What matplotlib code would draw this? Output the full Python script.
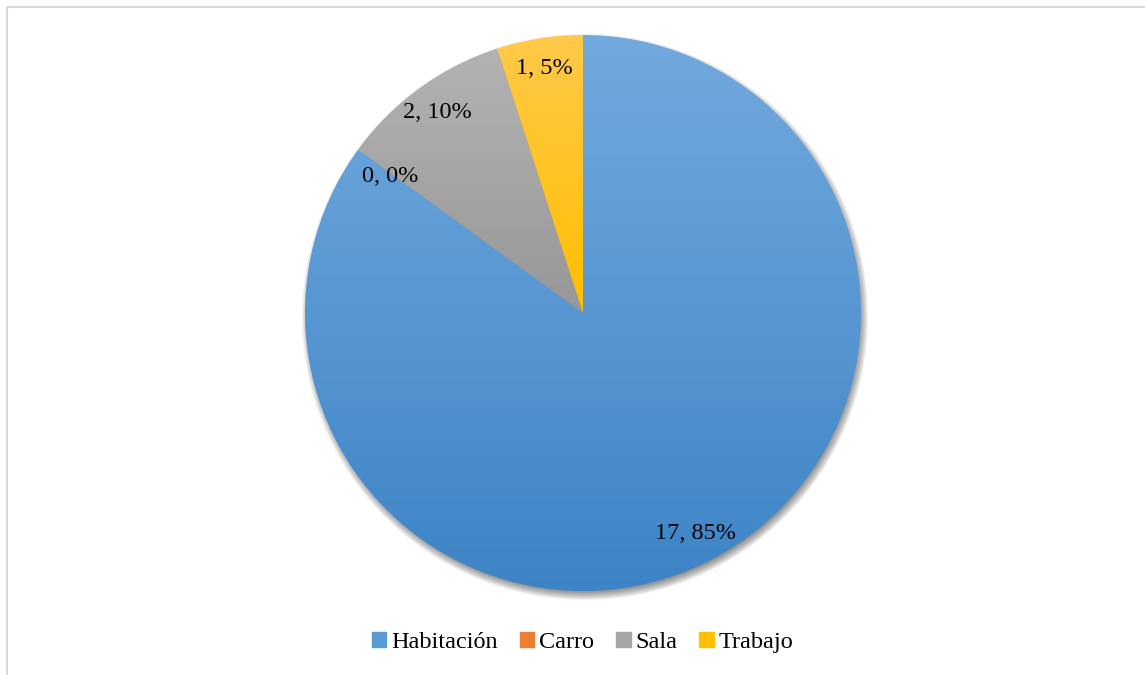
import matplotlib.pyplot as plt
import numpy as np
from matplotlib.patches import Rectangle, Circle
from matplotlib.colors import LinearSegmentedColormap
from matplotlib.lines import Line2D

# Dados do gráfico
categorias = ['Habitación', 'Carro', 'Sala', 'Trabajo']
valores = [17, 0, 2, 1]
cor_topo = ['#72A9DE', '#F5A263', '#B3B3B3', '#FFC94A']
cor_base = ['#3D84C6', '#E36C0A', '#979797', '#FFBF00']
cor_legenda = ['#5B9BD5', '#ED7D31', '#A5A5A5', '#FFC000']

plt.rcParams['font.family'] = ['Liberation Serif', 'DejaVu Serif']

fig = plt.figure(figsize=(11.45, 6.75), dpi=100)
ax = fig.add_axes([0, 0, 1, 1])

# moldura (só topo e esquerda aparecem)
ax.add_line(Line2D([7, 7, 1145], [0, 668, 668], color='#D9D9D9', lw=1.5))

cx, cy, r = 583, 362, 278

# sombra suave deslocada para baixo/direita
for i in range(10):
    ax.add_patch(Circle((cx + 2, cy - 4), r + 5 - i, color='black', alpha=0.055, lw=0, zorder=1))

contador = iter(valores)


def rotulo(pct):
    v = next(contador)
    return f'{v}, {pct:.0f}%'


wedges, _, autotexts = ax.pie(valores, center=(cx, cy), radius=r, startangle=90,
                              counterclock=False, autopct=rotulo, pctdistance=0.89,
                              frame=True, wedgeprops=dict(lw=0),
                              textprops=dict(fontsize=17.5, color='black'))

# preenchimento em gradiente vertical para cada fatia
for w, c0, c1, v in zip(wedges, cor_topo, cor_base, valores):
    w.set_zorder(2)
    if v == 0:
        w.set_visible(False)
        continue
    w.set_facecolor('none')
    bb = w.get_path().get_extents()
    cmap = LinearSegmentedColormap.from_list('g', [c1, c0])
    grad = np.linspace(0, 1, 256).reshape(-1, 1)
    im = ax.imshow(grad, cmap=cmap, origin='lower', aspect='auto',
                   extent=(bb.x0, bb.x1, bb.y0, bb.y1), zorder=2)
    im.set_clip_path(w)

for t in autotexts:
    t.set_zorder(5)
# rótulo da fatia vazia (Carro) um pouco mais para dentro
x0, y0 = autotexts[1].get_position()
autotexts[1].set_position((x0 + 7, y0 - 9))

ax.set_xlim(0, 1145)
ax.set_ylim(0, 675)
ax.axis('off')

# legenda
handles = [Rectangle((0, 0), 1, 1, color=c) for c in cor_legenda]
fig.legend(handles, categorias, loc='center', bbox_to_anchor=(0.509, 0.048), ncol=4,
           frameon=False, fontsize=17.5, handlelength=0.6, handleheight=0.6,
           handletextpad=0.2, columnspacing=0.9)

fig.savefig('out.png', dpi=100)
